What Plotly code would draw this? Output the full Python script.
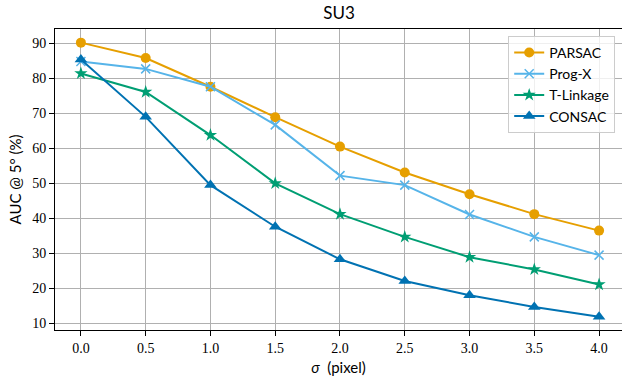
import plotly.graph_objects as go

sigma = [0.0, 0.5, 1.0, 1.5, 2.0, 2.5, 3.0, 3.5, 4.0]
parsac = [90.2, 85.8, 77.6, 68.9, 60.5, 53.1, 46.9, 41.2, 36.5]
progx = [84.8, 82.7, 77.6, 66.7, 52.2, 49.5, 41.1, 34.7, 29.5]
tlinkage = [81.4, 76.1, 63.8, 50.0, 41.2, 34.7, 28.9, 25.4, 21.1]
consac = [85.4, 69.0, 49.5, 37.6, 28.3, 22.1, 18.0, 14.7, 11.9]

series = [
    ("PARSAC", parsac, "#E69F00", "circle", 10),
    ("Prog-X", progx, "#56B4E9", "x-thin", 9),
    ("T-Linkage", tlinkage, "#009E73", "star", 10),
    ("CONSAC", consac, "#0072B2", "triangle-up", 11),
]

fig = go.Figure()
for name, ys, color, sym, size in series:
    marker = dict(symbol=sym, size=size, color=color)
    if sym == "x-thin":
        marker["line"] = dict(color=color, width=1.5)
    fig.add_trace(go.Scatter(
        x=sigma, y=ys, name=name, mode="lines+markers",
        line=dict(color=color, width=2), marker=marker,
    ))

serif = "Liberation Serif"
sans = "Lato"

fig.update_layout(
    width=622, height=381,
    margin=dict(l=55, r=0, t=29, b=51),
    plot_bgcolor="white", paper_bgcolor="white",
    title=dict(text="SU3", x=0.545, xanchor="center", y=0.967, yanchor="middle",
               font=dict(family=sans, size=17, color="black")),
    legend=dict(x=0.988, xanchor="right", y=0.977, yanchor="top",
                bgcolor="rgba(255,255,255,0.8)", bordercolor="#cccccc", borderwidth=1,
                font=dict(family=sans, size=14, color="black")),
    xaxis=dict(range=[-0.2, 4.177], tickvals=sigma, ticktext=[f"{v:.1f}" for v in sigma],
               showgrid=True, gridcolor="#b0b0b0", gridwidth=1, zeroline=False,
               showline=True, linecolor="black", linewidth=1, mirror=True,
               ticks="outside", ticklen=5, tickcolor="black",
               tickfont=dict(family=serif, size=14, color="black"),
               title=dict(text="<i>σ</i>  (pixel)", font=dict(family=sans, size=15, color="black"), standoff=7)),
    yaxis=dict(range=[8.1, 94.1], tickvals=[10, 20, 30, 40, 50, 60, 70, 80, 90],
               showgrid=True, gridcolor="#b0b0b0", gridwidth=1, zeroline=False,
               showline=True, linecolor="black", linewidth=1,
               ticks="outside", ticklen=5, tickcolor="black",
               tickfont=dict(family=serif, size=14, color="black"),
               title=dict(text="AUC @ 5° (%)", font=dict(family=sans, size=15, color="black"), standoff=6)),
)

fig.write_html("out.html")
